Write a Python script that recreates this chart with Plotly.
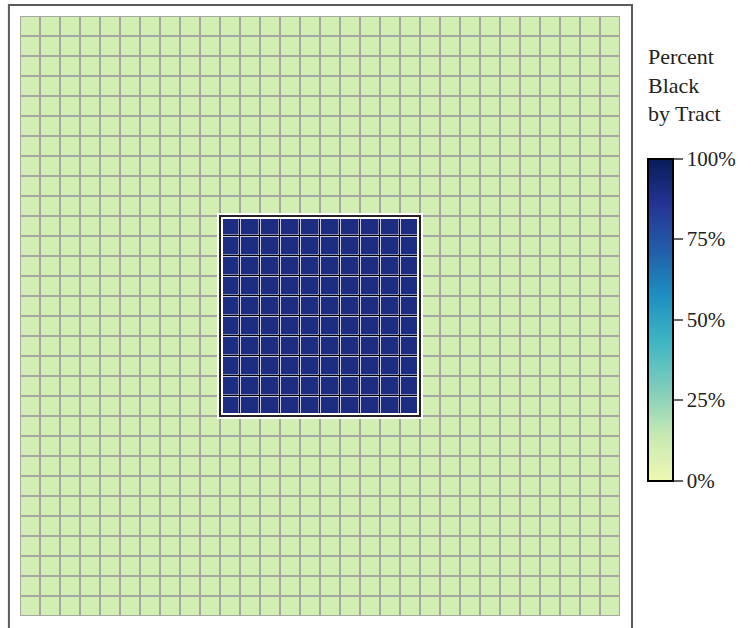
import numpy as np
import plotly.graph_objects as go

# ---- data ----
N_COLS = 30
N_ROWS = 30
LOW_PCT = 10.0    # percent Black in the surrounding tracts
HIGH_PCT = 90.0   # percent Black in the central block of tracts
# tract map, top row first: '.' = low tract, '#' = high tract
tract_map = [
    "..............................",
    "..............................",
    "..............................",
    "..............................",
    "..............................",
    "..............................",
    "..............................",
    "..............................",
    "..............................",
    "..............................",
    "..........##########..........",
    "..........##########..........",
    "..........##########..........",
    "..........##########..........",
    "..........##########..........",
    "..........##########..........",
    "..........##########..........",
    "..........##########..........",
    "..........##########..........",
    "..........##########..........",
    "..............................",
    "..............................",
    "..............................",
    "..............................",
    "..............................",
    "..............................",
    "..............................",
    "..............................",
    "..............................",
    "..............................",
]
tick_vals = [0, 25, 50, 75, 100]
tick_text = ["0%", "25%", "50%", "75%", "100%"]
colorbar_title = "Percent<br>Black<br>by Tract"

ylgnbu = [
    [0.0, "#edf8b1"], [1/7, "#c7e9b4"], [2/7, "#7fcdbb"], [3/7, "#41b6c4"],
    [4/7, "#1d91c0"], [5/7, "#225ea8"], [6/7, "#253494"], [1.0, "#081d58"],
]

z = np.array([[HIGH_PCT if ch == "#" else LOW_PCT for ch in row] for row in tract_map])
xs = np.arange(N_COLS) + 0.5
ys = np.arange(N_ROWS) + 0.5
mask = z > 50
z_hi = np.where(mask, z, np.nan)
z_flag = np.where(mask, 1.0, np.nan)

SERIF = "Liberation Serif, DejaVu Serif, serif"

fig = go.Figure()
# all tracts with grey borders (gaps show the grey plot background)
fig.add_trace(go.Heatmap(
    x=xs, y=ys, z=z, zmin=0, zmax=100, colorscale=ylgnbu,
    xgap=2, ygap=2, hoverinfo="skip",
    colorbar=dict(
        tickvals=tick_vals, ticktext=tick_text,
        lenmode="pixels", len=322, thickness=25,
        x=1.0467, xanchor="left", y=0.494, yanchor="middle",
        outlinecolor="black", outlinewidth=2,
        ticks="outside", ticklen=9, tickcolor="#666666", tickwidth=1.5,
        tickfont=dict(family=SERIF, size=21, color="#222222"),
        xpad=0, ypad=0,
    ),
))
# highlighted tracts: black underlay, light outline, blue fill
fig.add_trace(go.Heatmap(
    x=xs, y=ys, z=z_flag, zmin=0, zmax=1,
    colorscale=[[0, "#000000"], [1, "#000000"]], showscale=False, hoverinfo="skip",
))
fig.add_trace(go.Heatmap(
    x=xs, y=ys, z=z_flag, zmin=0, zmax=1, xgap=1.0, ygap=1.0,
    colorscale=[[0, "#c8cbdc"], [1, "#c8cbdc"]], showscale=False, hoverinfo="skip",
))
fig.add_trace(go.Heatmap(
    x=xs, y=ys, z=z_hi, zmin=0, zmax=100, xgap=2.6, ygap=2.6,
    colorscale=ylgnbu, showscale=False, hoverinfo="skip",
))

# outline of the highlighted block, from its extent in the data
rows_hi = np.where(mask.any(axis=1))[0]
cols_hi = np.where(mask.any(axis=0))[0]
x0, x1 = cols_hi.min(), cols_hi.max() + 1
y0, y1 = rows_hi.min(), rows_hi.max() + 1
fig.add_shape(type="rect", x0=x0, x1=x1, y0=y0, y1=y1,
              line=dict(color="white", width=6), layer="above")
fig.add_shape(type="rect", x0=x0, x1=x1, y0=y0, y1=y1,
              line=dict(color="#222222", width=2), layer="above")

# outer frame of the map panel
fig.add_shape(type="rect", xref="paper", yref="paper",
              x0=-0.0185, x1=1.02, y0=-0.06, y1=1.0185,
              line=dict(color="#5a5a5a", width=2), layer="below")

fig.add_annotation(
    text=colorbar_title, xref="paper", yref="paper",
    x=(646 - 20) / 600, y=1 + (16 - 42) / 600, xanchor="left", yanchor="top",
    showarrow=False, align="left",
    font=dict(family=SERIF, size=22, color="#222222"),
)

fig.update_xaxes(range=[0, N_COLS], visible=False, fixedrange=True)
fig.update_yaxes(range=[N_ROWS, 0], visible=False, fixedrange=True)
fig.update_layout(
    width=751, height=628,
    margin=dict(l=20, r=131, t=16, b=12),
    plot_bgcolor="#a4a8a2", paper_bgcolor="white",
    showlegend=False,
)

fig.write_html("out.html", config={"displayModeBar": False},
               post_script="document.body.style.margin='0';")
